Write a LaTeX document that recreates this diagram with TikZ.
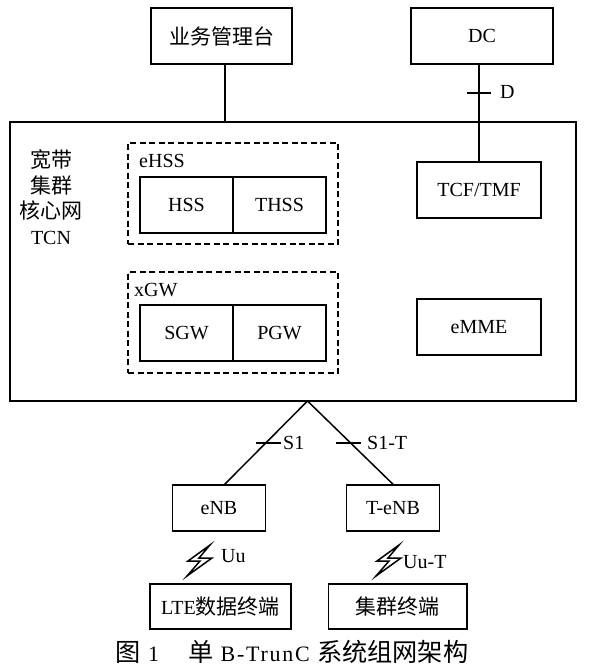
\documentclass[tikz,border=0pt]{standalone}
\usepackage{fontspec}
\setmainfont{Liberation Serif}
\newfontfamily\cjk{Noto Sans CJK SC}
\lineskiplimit=-20pt
\newcommand{\zh}[1]{{\fontsize{21}{24}\selectfont\cjk #1}}
\newcommand{\zhc}[1]{{\fontsize{25.2}{28}\selectfont\cjk #1}}
\tikzset{
  bx/.style={draw=black,line width=1.5pt,fill=white,inner sep=0pt,font=\fontsize{20}{23}\selectfont},
  lbl/.style={inner sep=0pt,font=\fontsize{20}{23}\selectfont},
  dash box/.style={draw=black,line width=1.4pt,dash pattern=on 6pt off 3.5pt,inner sep=0pt},
  conn/.style={line width=1.5pt},
  tick/.style={line width=1.2pt},
  bolt/.style={draw=black,line width=1.5pt,fill=white,line join=miter}
}
\begin{document}
\begin{tikzpicture}[x=1pt,y=-1pt]
\useasboundingbox (0,0) rectangle (588,668);
\node[bx,minimum width=566pt,minimum height=279pt] (main) at (293,261.5) {};
\node[bx,minimum width=141pt,minimum height=56pt] (mgr) at (221.5,36) {\zh{业务管理台}};
\node[bx,minimum width=142pt,minimum height=56pt] (dc) at (482,36) {DC};
\coordinate (mgrdrop) at (225,64);
\draw[conn] (mgrdrop) -- (mgrdrop |- main.north);
\node[bx,minimum width=124pt,minimum height=56pt] (tcf) at (479,190) {TCF/TMF};
\draw[conn] (dc.south -| tcf.north) -- (tcf.north);
\coordinate (dt) at (479,93);
\draw[tick] ([xshift=-12pt]dt) -- ([xshift=12pt]dt);
\node[lbl,anchor=west] (dl) at (500,92) {D};
\node[bx,minimum width=124pt,minimum height=56pt] (emme) at (479,327) {eMME};
\node[dash box,minimum width=210pt,minimum height=101pt] (ehss) at (233,193.5) {};
\node[lbl,anchor=west] (ehssl) at (139,161) {eHSS};
\node[bx,minimum width=93pt,minimum height=56pt] (hss) at (186.5,205) {HSS};
\node[bx,minimum width=93pt,minimum height=56pt] (thss) at (279.5,205) {THSS};
\node[dash box,minimum width=210pt,minimum height=101pt] (xgw) at (233,322.5) {};
\node[lbl,anchor=west] (xgwl) at (134,290) {xGW};
\node[bx,minimum width=93pt,minimum height=56pt] (sgw) at (186.5,333) {SGW};
\node[bx,minimum width=93pt,minimum height=56pt] (pgw) at (279.5,333) {PGW};
\node[lbl,align=center,font=\fontsize{20}{25.5}\selectfont] (tcn) at (51,197) {\zh{宽带}\\\zh{集群}\\\zh{核心网}\\TCN};
\coordinate (apex) at (307.5,401);
\node[bx,minimum width=93pt,minimum height=46pt] (enb) at (219,508) {eNB};
\node[bx,minimum width=93pt,minimum height=46pt] (tenb) at (393,508) {T-eNB};
\coordinate (enbtop) at (224,485);
\draw[conn] (apex) -- (enbtop);
\draw[conn] (apex) -- (tenb.north);
\coordinate (t1) at (268.5,443);
\coordinate (t2) at (348.5,443);
\draw[tick] ([xshift=-12.5pt]t1) -- ([xshift=12.5pt]t1);
\draw[tick] ([xshift=-12.5pt]t2) -- ([xshift=12.5pt]t2);
\node[lbl,anchor=west] (s1) at (283,443) {S1};
\node[lbl,anchor=west] (s1t) at (367,443) {S1-T};
\node[bx,minimum width=141pt,minimum height=45pt] (lte) at (220.5,606.5) {LTE\zh{数据终端}};
\node[bx,minimum width=138.5pt,minimum height=45pt] (term) at (397.75,606.5) {\zh{集群终端}};
\draw[bolt] (210,545) -- (188,561) -- (200,561) -- (187,576) -- (212,558) -- (199,558) -- cycle;
\draw[bolt] (399,545) -- (377,561) -- (389,561) -- (376,576) -- (401,558) -- (388,558) -- cycle;
\node[lbl,anchor=west] (uu) at (221,556) {Uu};
\node[lbl,anchor=west] (uut) at (403,562) {Uu-T};
\node[lbl,font=\fontsize{22}{26}\selectfont\addfontfeature{LetterSpace=8}] (cap) at (292,652) {\zhc{图}\ 1\hspace{29pt}\zhc{单} B-TrunC \zhc{系统组网架构}};
\end{tikzpicture}
\end{document}
